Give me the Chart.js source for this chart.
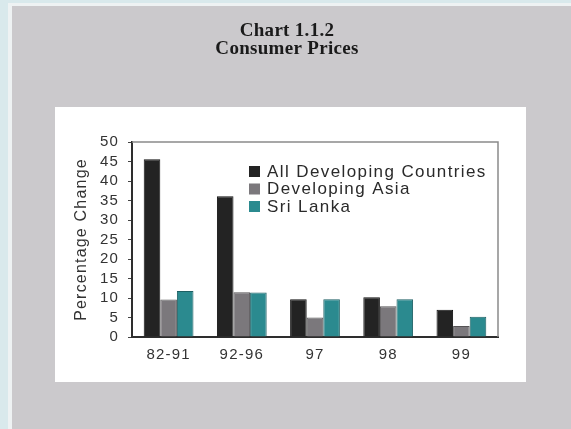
<!DOCTYPE html>
<html>
<head>
<meta charset="utf-8">
<script src="https://cdn.jsdelivr.net/npm/chart.js@4.4.1/dist/chart.umd.min.js"></script>
<style>
    html, body { margin: 0; padding: 0; background: #cbc9cc; }
    #wrap { width: 571px; height: 429px; position: relative; }
</style>
</head>
<body>
<div id="wrap"><canvas id="pricesChart" width="571" height="429"></canvas></div>
<script>
// Chart 1.1.2 - Consumer Prices (percentage change)

const categories = ['82-91', '92-96', '97', '98', '99'];
const seriesNames = ['All Developing Countries', 'Developing Asia', 'Sri Lanka'];
const allDeveloping = [45.6, 36.1, 9.7, 10.2, 7.0];
const developingAsia = [9.6, 11.5, 5.0, 7.9, 2.8];
const sriLanka = [11.8, 11.4, 9.7, 9.7, 5.2];
const yTicks = [0, 5, 10, 15, 20, 25, 30, 35, 40, 45, 50];
const titleLines = ['Chart 1.1.2', 'Consumer Prices'];
const yAxisTitle = 'Percentage Change';

const sansFont = '"Liberation Sans", Arial, sans-serif';
const serifFont = '"Liberation Serif", "Times New Roman", serif';

// Page background: grey sheet, light frame on the left/top, white panel behind the plot
const pageBackground = {
    id: 'pageBackground',
    beforeDraw(chart) {
        const ctx = chart.ctx;
        ctx.save();
        ctx.fillStyle = '#cbc9cc';
        ctx.fillRect(0, 0, chart.width, chart.height);
        ctx.fillStyle = '#d9e9ec';
        ctx.fillRect(0, 0, 8, chart.height);
        ctx.fillRect(0, 0, chart.width, 3);
        ctx.fillStyle = '#eef2f3';
        ctx.fillRect(8, 3, 4, chart.height);
        ctx.fillRect(8, 3, chart.width, 3);
        ctx.fillStyle = '#ffffff';
        ctx.fillRect(55, 107, 471, 275);
        ctx.restore();
        // the scanned text is a bit letter-spaced
        ctx.letterSpacing = '1.2px';
    },
    beforeDatasetsDraw(chart) {
        const { ctx, chartArea } = chart;
        ctx.save();
        ctx.strokeStyle = '#8a8a8a';
        ctx.lineWidth = 1.5;
        ctx.beginPath();
        ctx.moveTo(chartArea.left, chartArea.top);
        ctx.lineTo(chartArea.right, chartArea.top);
        ctx.lineTo(chartArea.right, chartArea.bottom);
        ctx.stroke();
        ctx.restore();
    }
};

// Title above the white panel
const pageTitle = {
    id: 'pageTitle',
    afterDraw(chart) {
        const ctx = chart.ctx;
        ctx.save();
        ctx.letterSpacing = '0.3px';
        ctx.fillStyle = '#1a1a1a';
        ctx.font = 'bold 19px ' + serifFont;
        ctx.textAlign = 'center';
        ctx.textBaseline = 'middle';
        ctx.fillText(titleLines[0], 287, 31);
        ctx.fillText(titleLines[1], 287, 49);
        ctx.restore();
    }
};

// Legend drawn inside the plot area, from the datasets
const insideLegend = {
    id: 'insideLegend',
    afterDatasetsDraw(chart) {
        const ctx = chart.ctx;
        ctx.save();
        ctx.letterSpacing = '1.4px';
        ctx.font = '17px ' + sansFont;
        ctx.textBaseline = 'middle';
        chart.data.datasets.forEach((ds, i) => {
            const y = 171 + i * 17.5;
            ctx.fillStyle = ds.backgroundColor;
            ctx.fillRect(249, y - 5, 11, 11);
            ctx.fillStyle = '#2a2a2a';
            ctx.fillText(ds.label, 267, y + 1);
        });
        ctx.restore();
    }
};

const barColors = ['#232323', '#7b787c', '#2b8a8f'];
const borderColors = ['#111111', '#555355', '#1d5f63'];

new Chart(document.getElementById('pricesChart'), {
    type: 'bar',
    data: {
        labels: categories,
        datasets: [allDeveloping, developingAsia, sriLanka].map((values, i) => ({
            label: seriesNames[i],
            data: values,
            backgroundColor: barColors[i],
            borderColor: borderColors[i],
            borderWidth: 1,
            categoryPercentage: 0.68,
            barPercentage: 1.0
        }))
    },
    options: {
        responsive: false,
        animation: false,
        layout: {
            padding: { left: 72, right: 73, top: 142, bottom: 62 }
        },
        plugins: {
            legend: { display: false },
            title: { display: false },
            tooltip: { enabled: false }
        },
        scales: {
            x: {
                afterFit: (scale) => { scale.height = 30; },
                grid: { display: false, drawTicks: false },
                border: { display: true, color: '#2e2e2e', width: 2 },
                ticks: {
                    color: '#333333',
                    padding: 9,
                    font: { family: sansFont, size: 15 }
                }
            },
            y: {
                min: 0,
                max: 50,
                afterFit: (scale) => { scale.width = 60; },
                afterBuildTicks: (scale) => {
                    scale.ticks = yTicks.map(v => ({ value: v }));
                },
                grid: {
                    drawOnChartArea: false,
                    drawTicks: true,
                    tickLength: 4,
                    color: '#444444'
                },
                border: { display: true, color: '#2e2e2e', width: 2 },
                ticks: {
                    autoSkip: false,
                    color: '#333333',
                    padding: 9,
                    font: { family: sansFont, size: 15 }
                },
                title: {
                    display: true,
                    text: yAxisTitle,
                    color: '#333333',
                    padding: { top: 0, bottom: 0 },
                    font: { family: sansFont, size: 16 }
                }
            }
        }
    },
    plugins: [pageBackground, pageTitle, insideLegend]
});
</script>
</body>
</html>
